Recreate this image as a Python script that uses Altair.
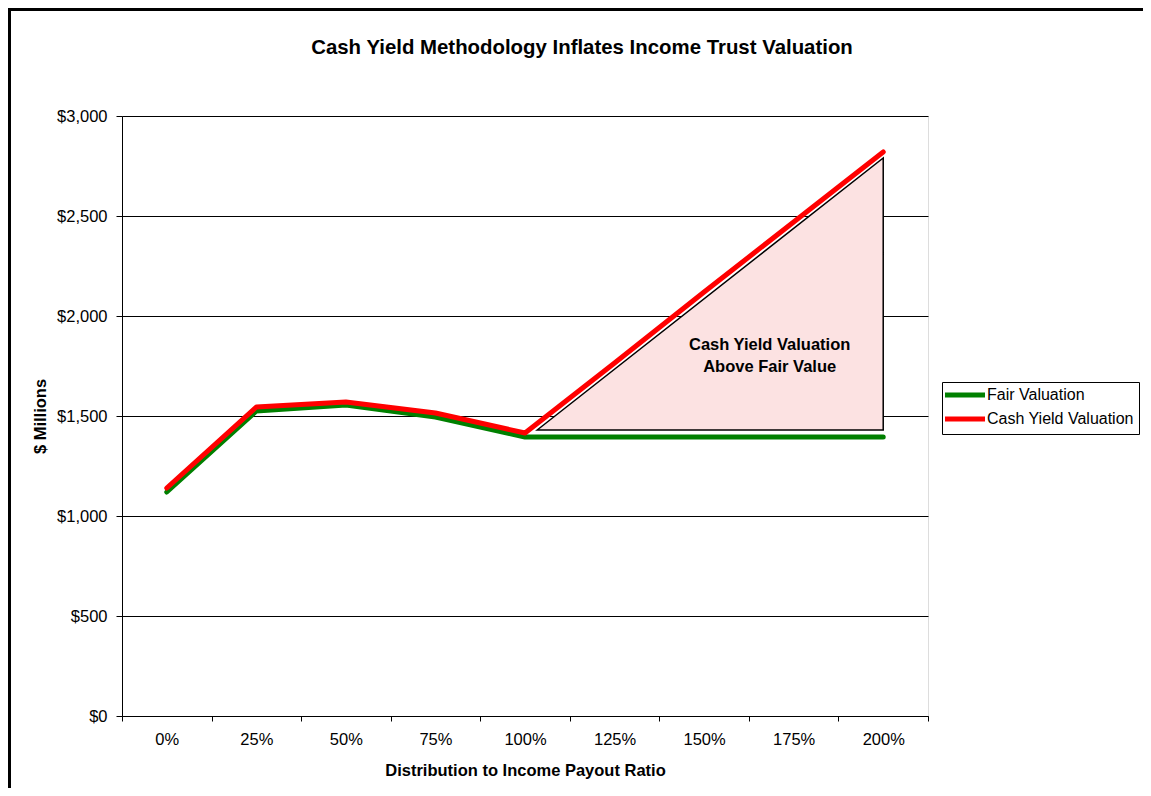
import altair as alt
import pandas as pd

FONT = "Liberation Sans"

payout = ["0%", "25%", "50%", "75%", "100%", "125%", "150%", "175%", "200%"]
fair = [1120, 1525, 1555, 1495, 1395, 1395, 1395, 1395, 1395]
cash = [1140, 1545, 1570, 1515, 1415, 1765, 2120, 2470, 2820]
series = ["Fair Valuation", "Cash Yield Valuation"]
colors = ["#008000", "#ff0000"]

# shaded gap (payout in %, $ millions)
gap_pct = [103.4, 200]
gap_top = [1430, 2790]
gap_base = [1430, 1430]

note_lines = ["Cash Yield Valuation", "Above Fair Value"]
note_pct = [168.3, 168.3]
note_val = [1855, 1745]

rows = []
for p, f, c in zip(payout, fair, cash):
    rows.append({"payout": p, "series": series[0], "value": f})
    rows.append({"payout": p, "series": series[1], "value": c})
df = pd.DataFrame(rows)
gap_df = pd.DataFrame({"pct": gap_pct, "top": gap_top, "base": gap_base})
note_df = pd.DataFrame({"text": note_lines, "pct": note_pct, "val": note_val})

W, H = 806, 600

y_axis = alt.Axis(
    title="$ Millions", values=[0, 500, 1000, 1500, 2000, 2500, 3000],
    format="$,.0f", grid=True, gridColor="#000", gridWidth=1,
    tickSize=6, tickColor="#000", domainColor="#000",
    labelFontSize=16.5, labelColor="#000", labelFont=FONT, labelPadding=9,
    titleFontSize=16.5, titleFont=FONT, titleFontWeight="bold", titleColor="#000",
    titlePadding=8,
)
y_scale = alt.Scale(domain=[0, 3000], nice=False, zero=True)

x_axis = alt.Axis(
    title="Distribution to Income Payout Ratio", labelAngle=0, tickBand="extent",
    tickSize=5, tickColor="#000", domainColor="#000", grid=False,
    labelFontSize=16.5, labelColor="#000", labelFont=FONT, labelPadding=10,
    titleFontSize=16.5, titleFont=FONT, titleFontWeight="bold", titleColor="#000",
    titlePadding=15,
)
x_band = alt.X("payout:N", sort=payout, axis=x_axis,
               scale=alt.Scale(type="band", paddingInner=0, paddingOuter=0))
x_q = alt.Scale(domain=[-12.5, 212.5], nice=False, zero=False)

legend = alt.Legend(
    title=None, orient="none", legendX=820, legendY=266,
    symbolType="M-4,0H4", symbolSize=100, symbolStrokeWidth=5, symbolOffset=10,
    labelFontSize=16, labelFont=FONT, labelColor="#000", labelOffset=14,
    strokeColor="#000", padding=5, rowPadding=4, fillColor="#fff",
)
color = alt.Color("series:N", scale=alt.Scale(domain=series, range=colors), legend=legend)

frame = alt.Chart(pd.DataFrame({"f": [0]})).mark_rect(
    filled=False, stroke="#000", strokeWidth=3
).encode(
    x=alt.value(-112.5), y=alt.value(-106.5),
    x2=alt.value(W + 240), y2=alt.value(H + 100),
)

gap = alt.Chart(gap_df).mark_area(
    fill="#fce2e2", stroke="#000", strokeWidth=1.5, interpolate="linear"
).encode(
    x=alt.X("pct:Q", scale=x_q, axis=None),
    y=alt.Y("top:Q", scale=y_scale, axis=y_axis),
    y2="base:Q",
)

note = alt.Chart(note_df).mark_text(
    font=FONT, fontSize=16.5, fontWeight="bold", color="#000", baseline="middle"
).encode(
    x=alt.X("pct:Q", scale=x_q, axis=None),
    y=alt.Y("val:Q", scale=y_scale, axis=y_axis),
    text="text:N",
)

line_fair = alt.Chart(df).transform_filter(
    alt.datum.series == series[0]
).mark_line(strokeWidth=5, strokeCap="round", strokeJoin="round").encode(
    x=x_band, y=alt.Y("value:Q", scale=y_scale, axis=y_axis), color=color
)
line_cash = alt.Chart(df).transform_filter(
    alt.datum.series == series[1]
).mark_line(strokeWidth=5, strokeCap="round", strokeJoin="round").encode(
    x=x_band, y=alt.Y("value:Q", scale=y_scale, axis=y_axis), color=color
)
lines = alt.layer(line_fair, line_cash)

chart = alt.layer(frame, gap, note, lines).resolve_scale(
    x="independent"
).properties(
    width=W, height=H,
    title=alt.TitleParams(
        "Cash Yield Methodology Inflates Income Trust Valuation",
        fontSize=20.4, fontWeight="bold", font=FONT, color="#000",
        anchor="middle", dx=57, offset=-50,
    ),
    autosize=alt.AutoSizeParams(type="none"),
    padding={"left": 114, "top": 108, "right": 215, "bottom": 72},
).configure_view(stroke="#808080", strokeWidth=1.5).configure(background="#fff")

chart.save("out.html", embed_options={"renderer": "svg", "actions": False})
